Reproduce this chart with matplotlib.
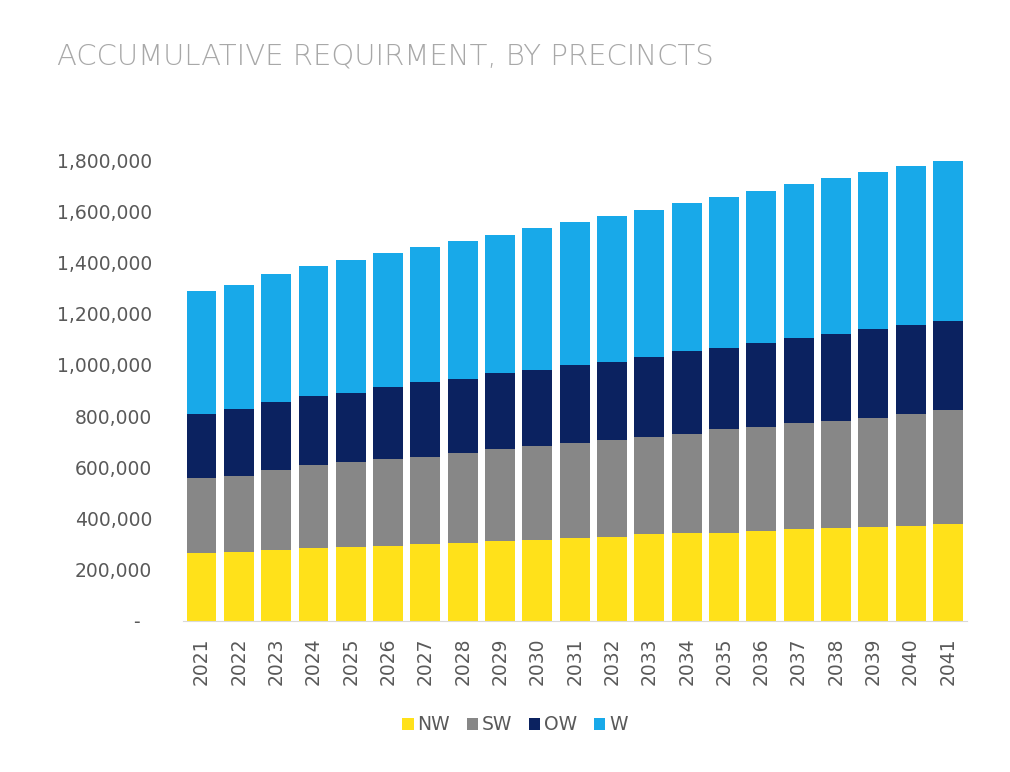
import numpy as np
import matplotlib.pyplot as plt
from matplotlib.ticker import FuncFormatter

years = [str(y) for y in range(2021, 2042)]

# values (stacked segments)
nw = [267000, 271000, 277000, 284000, 288000, 294000, 299000, 306000, 311000, 316000, 325000,
      329000, 339000, 342000, 345000, 351000, 358000, 362000, 368000, 372000, 379000]
sw = [290000, 295000, 313000, 325000, 333000, 339000, 343000, 351000, 361000, 369000, 371000,
      378000, 378000, 388000, 404000, 408000, 414000, 420000, 423000, 435000, 445000]
ow = [250000, 261000, 266000, 271000, 271000, 280000, 292000, 288000, 295000, 295000, 304000,
      306000, 315000, 324000, 316000, 328000, 332000, 338000, 349000, 349000, 349000]
w = [483000, 485000, 498000, 506000, 518000, 523000, 528000, 540000, 540000, 553000, 559000,
     569000, 573000, 580000, 592000, 593000, 601000, 611000, 615000, 622000, 623000]

series = [("NW", nw, "#FFE11A"), ("SW", sw, "#878787"), ("OW", ow, "#0B2260"), ("W", w, "#18A9E9")]

fig = plt.figure(figsize=(10.1, 7.72), dpi=100)
ax = fig.add_axes([0.181, 0.1956, 0.776, 0.597])

x = np.arange(len(years))
bottom = np.zeros(len(years))
for name, vals, col in series:
    ax.bar(x, vals, 0.8, bottom=bottom, color=col, label=name)
    bottom += np.array(vals)

ax.set_xlim(-0.5, len(years) - 0.5)
ax.set_ylim(0, 1800000)
ax.set_yticks(np.arange(0, 1800001, 200000))

def fmt(v, pos):
    if v == 0:
        return "-  "
    return f"{int(v):,}"

ax.yaxis.set_major_formatter(FuncFormatter(fmt))
ax.set_xticks(x)
ax.set_xticklabels(years, rotation=90)

for s in ["top", "right", "left"]:
    ax.spines[s].set_visible(False)
ax.spines["bottom"].set_color("#d9d9d9")
ax.tick_params(axis="both", length=0, labelsize=13.5, colors="#595959")
ax.tick_params(axis="y", pad=22)
ax.tick_params(axis="x", pad=12)

fig.text(0.056, 0.927, "ACCUMULATIVE REQUIRMENT, BY PRECINCTS", fontsize=21,
         color="#a8a8a8", family="DejaVu Sans", weight="light", va="center", ha="left")

fig.legend(loc="center", bbox_to_anchor=(0.51, 0.061), ncol=4, frameon=False,
           fontsize=13.5, handlelength=0.6, handleheight=0.6, handletextpad=0.2,
           columnspacing=0.9, labelcolor="#595959")

fig.savefig("out.png", dpi=100, facecolor="white")
